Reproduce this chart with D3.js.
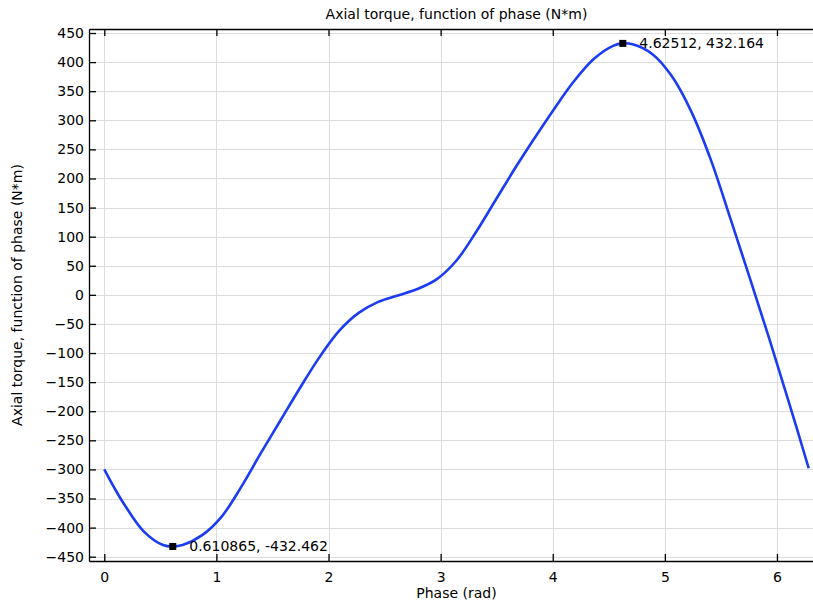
<!DOCTYPE html>
<html><head><meta charset="utf-8">
<script src="https://cdn.jsdelivr.net/npm/d3@7"></script>
<style>html,body{margin:0;padding:0;background:#fff;overflow:hidden}svg{display:block}</style>
</head><body>
<svg id="chart" width="813" height="602"></svg>
<script>
const phaseDeg = [0,5,10,20,30,35,40,50,60,70,80,90,100,110,120,130,140,150,160,170,180,190,200,210,220,230,240,250,260,265,270,280,290,300,310,320,330,340,350,360];
const torque = [-300,-331,-359,-406,-430,-432.462,-430,-413,-381,-330,-272,-216,-160,-107,-62,-31,-12,-1,10,27,59,108,163,218,270,320,367,405,428,432.164,430.5,414,376,315,232,131,28,-77,-186,-298];
const xTicks = [0,1,2,3,4,5,6];
const yTicks = [-450,-400,-350,-300,-250,-200,-150,-100,-50,0,50,100,150,200,250,300,350,400,450];
const markers = [{x:0.610865,y:-432.462,label:"0.610865, -432.462"},{x:4.62512,y:432.164,label:"4.62512, 432.164"}];
const title = "Axial torque, function of phase (N*m)";
const xTitle = "Phase (rad)";
const yTitle = "Axial torque, function of phase (N*m)";

const svg = d3.select("#chart");
const font = "'DejaVu Sans', sans-serif";
const fs = 14;
const L = 89, R = 824, T = 29, B = 561;
const x = d3.scaleLinear().domain([-0.1364, 6.4196]).range([L, R]);
const y = d3.scaleLinear().domain([-457.4, 456.9]).range([B, T]);

const data = phaseDeg.map((d,i)=>({x:d*Math.PI/180, y:torque[i]}));

// grid
const g = svg.append("g");
g.selectAll(".gx").data(xTicks).enter().append("line")
  .attr("x1",d=>Math.round(x(d))+0.5).attr("x2",d=>Math.round(x(d))+0.5)
  .attr("y1",T).attr("y2",B).attr("stroke","#dcdcdc").attr("stroke-width",1);
g.selectAll(".gy").data(yTicks).enter().append("line")
  .attr("y1",d=>Math.round(y(d))+0.5).attr("y2",d=>Math.round(y(d))+0.5)
  .attr("x1",L).attr("x2",R).attr("stroke","#dcdcdc").attr("stroke-width",1);

// curve
svg.append("path").datum(data)
  .attr("d", d3.line().x(d=>x(d.x)).y(d=>y(d.y)).curve(d3.curveCatmullRom.alpha(0.5)))
  .attr("fill","none").attr("stroke","#1a3cf2").attr("stroke-width",2.6);

// axes
const axB = svg.append("g").attr("transform",`translate(0,${B})`)
  .call(d3.axisBottom(x).tickValues(xTicks).tickSizeInner(-7).tickSizeOuter(0).tickPadding(11).tickFormat(d3.format("d")));
const axT = svg.append("g").attr("transform",`translate(0,${T})`)
  .call(d3.axisTop(x).tickValues(xTicks).tickSizeInner(-7).tickSizeOuter(0).tickFormat(""));
const axL = svg.append("g").attr("transform",`translate(${L},0)`)
  .call(d3.axisLeft(y).tickValues(yTicks).tickSizeInner(-7).tickSizeOuter(0).tickPadding(5).tickFormat(d3.format("d")));
[axB,axT,axL].forEach(a=>{
  a.selectAll("path").attr("stroke","#000").attr("stroke-width",1.3);
  a.selectAll("line").attr("stroke","#000").attr("stroke-width",1.3);
  a.selectAll("text").attr("font-family",font).attr("font-size",fs).attr("fill","#000");
});

// markers
markers.forEach(m=>{
  svg.append("rect").attr("x",x(m.x)-3.5).attr("y",y(m.y)-3.5).attr("width",7).attr("height",7).attr("fill","#000");
  svg.append("text").attr("x",x(m.x)+16.5).attr("y",y(m.y)).attr("dy","0.35em")
    .attr("font-family",font).attr("font-size",fs).attr("fill","#000").text(m.label);
});

// titles
svg.append("text").attr("x",(L+R)/2).attr("y",14).attr("dy","0.35em").attr("text-anchor","middle")
  .attr("font-family",font).attr("font-size",fs).text(title);
svg.append("text").attr("x",(L+R)/2).attr("y",593).attr("dy","0.35em").attr("text-anchor","middle")
  .attr("font-family",font).attr("font-size",fs).text(xTitle);
svg.append("text").attr("transform",`translate(17,${(T+B)/2}) rotate(-90)`).attr("dy","0.35em").attr("text-anchor","middle")
  .attr("font-family",font).attr("font-size",fs).text(yTitle);
</script>
</body></html>
